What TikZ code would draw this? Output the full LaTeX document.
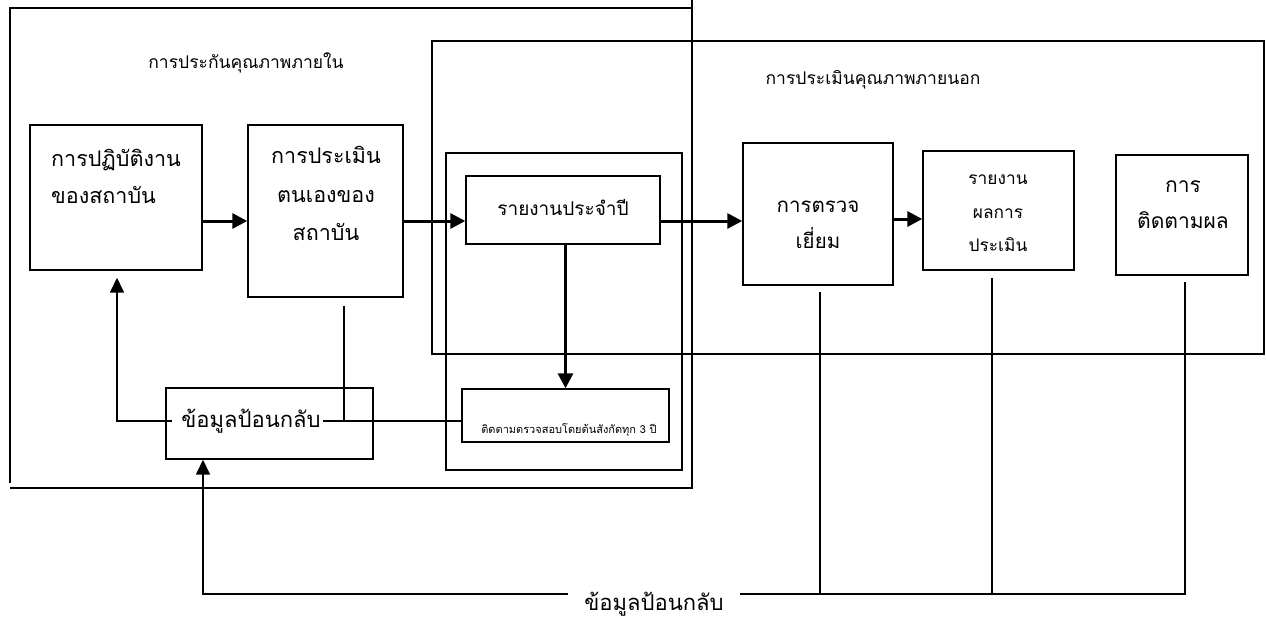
\documentclass[tikz,border=0pt]{standalone}
\usepackage{fontspec}
\setmainfont[Script=Thai]{Loma}
\usetikzlibrary{arrows.meta}
\begin{document}
\begin{tikzpicture}
		[x=1pt,y=-1pt,
		 frame/.style={line width=1.1pt,black},
		 box/.style={draw,line width=1.4pt,black,inner sep=0pt},
		 txt/.style={inner sep=0pt,align=center},
		 arr/.style={line width=3pt,-{Triangle[length=15pt,width=15pt]}},
		 fbline/.style={line width=1.2pt},
		 fbarr/.style={line width=1.6pt,-{Triangle[length=15pt,width=14pt]}}]
	\useasboundingbox (0,0) rectangle (1266,619);

	%draw the frame of internal and external assurance
	\draw[frame] (10,483) -- (10,8) -- (692,8);
	\draw[frame] (692,0) -- (692,488) -- (10,488);
	\draw[frame] (432,41) rectangle (1264,354);
	\draw[frame] (446,153) rectangle (682,470);
	\node[txt,font=\fontsize{17.5}{20}\selectfont] (qatitle) at (246,63) {การประกันคุณภาพภายใน};
	\node[txt,font=\fontsize{17.5}{20}\selectfont] (eqatitle) at (873,80) {การประเมินคุณภาพภายนอก};

	%draw the boxes
	\node[box,minimum width=172,minimum height=145] (practice) at (116,197.5) {};
	\node[box,minimum width=155,minimum height=172] (selfeval) at (325.5,211) {};
	\node[box,minimum width=194,minimum height=68]  (annual)   at (563,210) {};
	\node[box,minimum width=150,minimum height=142] (visit)    at (818,214) {};
	\node[box,minimum width=151,minimum height=119] (evalrep)  at (998.5,210.5) {};
	\node[box,minimum width=132,minimum height=120] (follow)   at (1182,215) {};
	\node[box,minimum width=207,minimum height=53]  (audit)    at (565.5,415.5) {};
	\node[box,minimum width=207,minimum height=71]  (feedback) at (269.5,423.5) {};

	%texts of the boxes
	\node[txt,align=left,anchor=west,font=\fontsize{21.5}{37}\selectfont] (practicetxt) at (51,176.5) {การปฏิบัติงาน\\ของสถาบัน};
	\node[txt,font=\fontsize{21.5}{38.5}\selectfont] (selfevaltxt) at (326,193.5) {การประเมิน\\ตนเองของ\\สถาบัน};
	\node[txt,font=\fontsize{19}{22}\selectfont] (annualtxt) at (563,207) {รายงานประจำปี};
	\node[txt,font=\fontsize{20.5}{36}\selectfont] (visittxt) at (818,225) {การตรวจ\\เยี่ยม};
	\node[txt,font=\fontsize{17.3}{33.5}\selectfont] (evalreptxt) at (998,213.5) {รายงาน\\ผลการ\\ประเมิน};
	\node[txt,font=\fontsize{21}{36}\selectfont] (followtxt) at (1183,205) {การ\\ติดตามผล};
	\node[txt,font=\fontsize{11}{13}\selectfont] (audittxt) at (569,430) {ติดตามตรวจสอบโดยต้นสังกัดทุก 3 ปี};
	\node[txt,font=\fontsize{22}{24}\selectfont] (fbtxt) at (251,421) {ข้อมูลป้อนกลับ};
	\node[txt,inner xsep=16pt,font=\fontsize{22}{24}\selectfont] (loopfb) at (654,604) {ข้อมูลป้อนกลับ};
	\coordinate (row) at (0,221);
	\coordinate (fbbase) at (0,594);

	%draw the arrows
	\draw[arr] (practice.east |- row) -- (selfeval.west |- row);
	\draw[arr] (selfeval.east |- row) -- (annual.west |- row);
	\draw[arr] (annual.east |- row) -- (visit.west |- row);
	\draw[arr] ([yshift=2]visit.east |- row) -- ([yshift=2]evalrep.west |- row);
	\draw[arr] (annual.south -| audit.north) -- (audit.north);

	%feedback inside
	\draw[fbarr,shorten >=7pt] ([xshift=-9]fbtxt.west) -| ([xshift=1]practice.south);
	\draw[fbline] ([xshift=2]fbtxt.east) -- (audit.west |- fbtxt.east);
	\draw[fbline] ([xshift=18.5,yshift=-8]selfeval.south) -- ([xshift=18.5]selfeval.south |- fbtxt.east);

	%feedback outside
	\draw[fbarr] (loopfb.west |- fbbase) -| ([xshift=-66.5]feedback.south);
	\draw[fbline] (loopfb.east |- fbbase) -| ([xshift=3,yshift=-6]follow.south);
	\draw[fbline] ([xshift=2,yshift=-6]visit.south) -- ([xshift=2]visit.south |- fbbase);
	\draw[fbline] ([xshift=-6.5,yshift=-7]evalrep.south) -- ([xshift=-6.5]evalrep.south |- fbbase);
\end{tikzpicture}
\end{document}
